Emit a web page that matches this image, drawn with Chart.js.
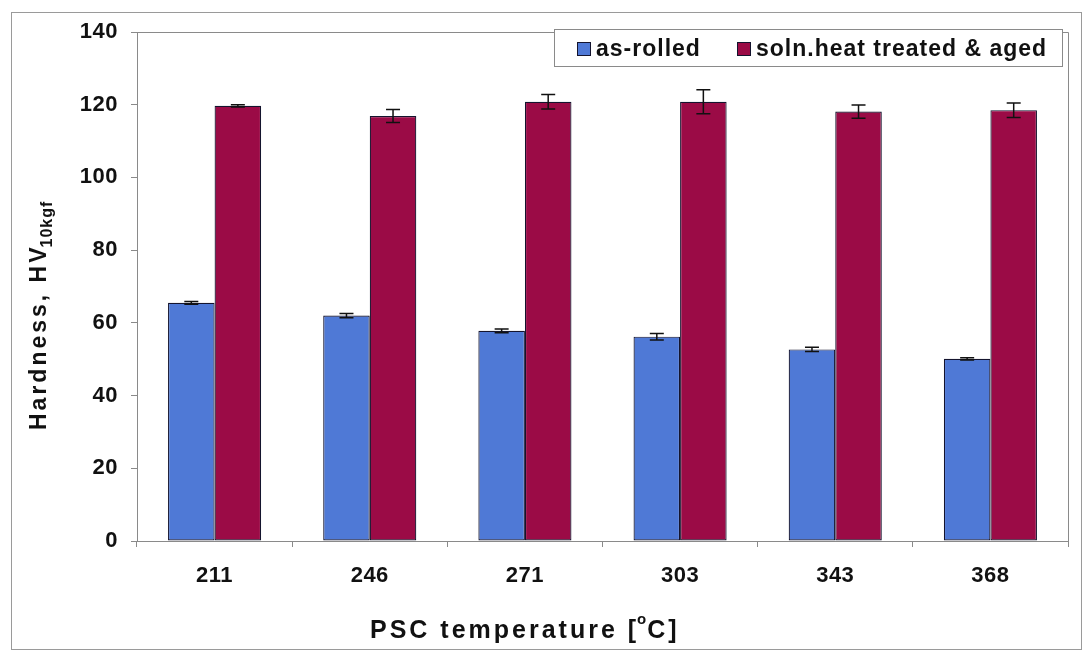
<!DOCTYPE html>
<html lang="en">
<head>
    <meta charset="UTF-8">
    <title>Hardness vs PSC temperature</title>
    <script src="https://cdn.jsdelivr.net/npm/chart.js"></script>
    <style>
        html, body { margin: 0; padding: 0; background: #fff; }
        #wrap { width: 1083px; height: 652px; position: relative; }
    </style>
</head>
<body>
<div id="wrap"><canvas id="hardnessChart"></canvas></div>

<script>
    // data
    const categories = ['211', '246', '271', '303', '343', '368'];
    const asRolled = [65.5, 62.0, 57.8, 56.2, 52.7, 50.1];
    const asRolledErr = [0.4, 0.6, 0.5, 0.9, 0.6, 0.3];
    const aged = [119.7, 116.9, 120.8, 120.8, 118.1, 118.5];
    const agedErr = [0.3, 1.8, 2.0, 3.3, 1.8, 2.0];
    const seriesNames = ['as-rolled', 'soln.heat treated & aged'];
    const yMin = 0, yMax = 140, yStep = 20;

    const FONT = '"Liberation Sans", Arial, sans-serif';
    const BLUE = '#4f79d6';
    const RED = '#9b0b46';
    const EDGE = '#14142e';

    // outer frame + plot box
    const framePlugin = {
        id: 'frame',
        beforeDraw(chart) {
            const ctx = chart.ctx;
            ctx.save();
            ctx.fillStyle = '#fff';
            ctx.fillRect(0, 0, chart.width, chart.height);
            ctx.strokeStyle = '#9a9a9a';
            ctx.lineWidth = 1;
            ctx.strokeRect(11.5, 12.5, chart.width - 13, chart.height - 15);
            ctx.restore();
            ctx.letterSpacing = '0.5px';
        },
        afterDraw(chart) {
            const a = chart.chartArea, ctx = chart.ctx;
            ctx.save();
            ctx.strokeStyle = '#8a8a8a';
            ctx.lineWidth = 1;
            ctx.beginPath();
            ctx.moveTo(a.left, a.top + 0.5);
            ctx.lineTo(a.right + 0.5, a.top + 0.5);
            ctx.lineTo(a.right + 0.5, a.bottom);
            ctx.stroke();
            ctx.restore();
        }
    };

    // error bars, drawn through the y scale
    const errorPlugin = {
        id: 'errbars',
        afterDatasetsDraw(chart) {
            const ctx = chart.ctx, y = chart.scales.y;
            const errs = [asRolledErr, agedErr];
            ctx.save();
            ctx.strokeStyle = '#111';
            ctx.lineWidth = 1.5;
            chart.data.datasets.forEach((ds, i) => {
                chart.getDatasetMeta(i).data.forEach((bar, j) => {
                    const v = ds.data[j], e = errs[i][j];
                    const top = y.getPixelForValue(v + e);
                    const bot = y.getPixelForValue(v - e);
                    ctx.beginPath();
                    ctx.moveTo(bar.x, top); ctx.lineTo(bar.x, bot);
                    ctx.moveTo(bar.x - 7, top); ctx.lineTo(bar.x + 7, top);
                    ctx.moveTo(bar.x - 7, bot); ctx.lineTo(bar.x + 7, bot);
                    ctx.stroke();
                });
            });
            ctx.restore();
        }
    };

    // legend box + axis titles
    const textPlugin = {
        id: 'texts',
        afterDraw(chart) {
            const ctx = chart.ctx;
            ctx.save();
            // legend
            ctx.fillStyle = '#fff';
            ctx.fillRect(554, 29, 508, 37);
            ctx.strokeStyle = '#8a8a8a';
            ctx.lineWidth = 1;
            ctx.strokeRect(554.5, 29.5, 508, 37);
            ctx.font = 'bold 23px ' + FONT;
            ctx.letterSpacing = '1px';
            ctx.textAlign = 'left';
            ctx.textBaseline = 'alphabetic';
            const items = [[577, BLUE, seriesNames[0]], [737, RED, seriesNames[1]]];
            items.forEach(([x, c, t]) => {
                ctx.fillStyle = c;
                ctx.fillRect(x, 42, 14, 14);
                ctx.strokeStyle = EDGE;
                ctx.strokeRect(x + 0.5, 42.5, 13, 13);
                ctx.fillStyle = '#111';
                ctx.fillText(t, x + 19, 56);
            });

            // x title
            ctx.font = 'bold 25px ' + FONT;
            ctx.letterSpacing = '3px';
            const t1 = 'PSC temperature [';
            let x = 370;
            ctx.fillText(t1, x, 638);
            x += ctx.measureText(t1).width - 2;
            ctx.font = 'bold 15px ' + FONT;
            ctx.letterSpacing = '0px';
            ctx.fillText('o', x, 624);
            x += ctx.measureText('o').width + 1;
            ctx.font = 'bold 25px ' + FONT;
            ctx.letterSpacing = '3px';
            ctx.fillText('C]', x, 638);

            // y title (rotated, with subscript)
            ctx.translate(46, 430);
            ctx.rotate(-Math.PI / 2);
            ctx.font = 'bold 23px ' + FONT;
            ctx.letterSpacing = '3px';
            const t2 = 'Hardness, HV';
            ctx.fillText(t2, 0, 0);
            const w = ctx.measureText(t2).width;
            ctx.font = 'bold 16px ' + FONT;
            ctx.letterSpacing = '1px';
            ctx.fillText('10kgf', w - 3, 6);
            ctx.restore();
        }
    };

    const ctx = document.getElementById('hardnessChart').getContext('2d');
    const hardnessChart = new Chart(ctx, {
        type: 'bar',
        data: {
            labels: categories,
            datasets: [{
                label: seriesNames[0],
                data: asRolled,
                backgroundColor: BLUE,
                borderColor: EDGE,
                borderWidth: 1.2,
                borderSkipped: false,
                barPercentage: 1.0,
                categoryPercentage: 0.6
            }, {
                label: seriesNames[1],
                data: aged,
                backgroundColor: RED,
                borderColor: EDGE,
                borderWidth: 1.2,
                borderSkipped: false,
                barPercentage: 1.0,
                categoryPercentage: 0.6
            }]
        },
        options: {
            responsive: true,
            maintainAspectRatio: false,
            animation: false,
            layout: { padding: { top: 32, right: 15, left: 0, bottom: 0 } },
            plugins: {
                legend: { display: false },
                tooltip: { enabled: false }
            },
            scales: {
                x: {
                    grid: { drawOnChartArea: false, offset: true, tickLength: 6, color: '#8a8a8a' },
                    border: { color: '#8a8a8a' },
                    ticks: { color: '#111', padding: 16, font: { family: FONT, size: 22, weight: 'bold' } },
                    afterFit: s => { s.height = 111; }
                },
                y: {
                    min: yMin,
                    max: yMax,
                    grid: { drawOnChartArea: false, tickLength: 6, color: '#8a8a8a' },
                    border: { color: '#8a8a8a' },
                    ticks: { stepSize: yStep, color: '#111', padding: 13, font: { family: FONT, size: 22, weight: 'bold' } },
                    afterFit: s => { s.width = 137; }
                }
            }
        },
        plugins: [framePlugin, errorPlugin, textPlugin]
    });
</script>
</body>
</html>
